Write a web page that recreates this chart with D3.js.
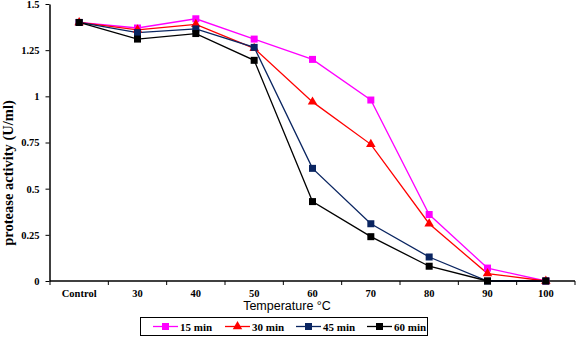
<!DOCTYPE html>
<html>
<head>
<meta charset="utf-8">
<script src="https://cdn.jsdelivr.net/npm/d3@7"></script>
<style>
  body { margin: 0; background: #fff; }
  svg { display: block; }
  .serif { font-family: "Liberation Serif", "DejaVu Serif", serif; font-weight: bold; }
  .sans { font-family: "Liberation Sans", Arial, sans-serif; }
</style>
</head>
<body>
<div id="chart"></div>
<script>
"use strict";

// data
var categories = ["Control", "30", "40", "50", "60", "70", "80", "90", "100"];
var yTicks = [0, 0.25, 0.5, 0.75, 1, 1.25, 1.5];
var seriesNames = ["15 min", "30 min", "45 min", "60 min"];
var min15 = [1.40, 1.37, 1.42, 1.31, 1.20, 0.98, 0.36, 0.07, 0.0];
var min30 = [1.40, 1.36, 1.39, 1.26, 0.97, 0.74, 0.31, 0.04, 0.0];
var min45 = [1.40, 1.345, 1.365, 1.265, 0.61, 0.31, 0.13, 0.0, 0.0];
var min60 = [1.40, 1.31, 1.34, 1.195, 0.43, 0.24, 0.08, 0.0, 0.0];
var colors = ["#ff00ff", "#ff0000", "#0a2561", "#000000"];
var markers = ["square", "triangle", "square", "square"];

var series = [min15, min30, min45, min60].map(function(vals, i) {
  return { name: seriesNames[i], values: vals, color: colors[i], marker: markers[i] };
});

var width = 579, height = 337;
var plotLeft = 50, plotRight = 575, plotTop = 4, plotBottom = 281;

var svg = d3.select("#chart").append("svg")
  .attr("width", width)
  .attr("height", height);

var x = d3.scaleBand().domain(categories).range([plotLeft, plotRight]);
var y = d3.scaleLinear().domain([0, 1.5]).range([plotBottom, plotTop]);

// x axis: ticks at band edges
var xAxis = svg.append("g").attr("transform", "translate(0," + plotBottom + ")");
xAxis.append("line")
  .attr("x1", plotLeft).attr("x2", plotRight)
  .attr("stroke", "#000").attr("stroke-width", 1.5);
d3.range(categories.length + 1).forEach(function(i) {
  var xx = plotLeft + i * x.bandwidth();
  xAxis.append("line")
    .attr("x1", xx).attr("x2", xx).attr("y1", 0).attr("y2", 4)
    .attr("stroke", "#000");
});
xAxis.selectAll("text.cat").data(categories).enter().append("text")
  .attr("class", "cat serif")
  .attr("x", function(d) { return x(d) + x.bandwidth() / 2; })
  .attr("y", 15.5)
  .attr("text-anchor", "middle")
  .attr("font-size", "10.5px")
  .text(function(d) { return d; });

// y axis
var yAxis = svg.append("g")
  .attr("transform", "translate(" + (plotLeft - 0.5) + ",0)")
  .call(d3.axisLeft(y).tickValues(yTicks).tickSize(4).tickPadding(6).tickSizeOuter(0)
    .tickFormat(function(d) { return String(d); }));
yAxis.select(".domain").attr("stroke-width", 1.5);
yAxis.selectAll("text")
  .attr("class", "serif")
  .attr("font-size", "10.5px");

// axis titles
svg.append("text")
  .attr("class", "sans")
  .attr("x", 287).attr("y", 310)
  .attr("text-anchor", "middle")
  .attr("font-size", "12.5px")
  .text("Temperature °C");

svg.append("text")
  .attr("class", "serif")
  .attr("transform", "translate(13,173) rotate(-90)")
  .attr("text-anchor", "middle")
  .attr("font-size", "14.5px")
  .text("protease activity (U/ml)");

// lines and markers
var line = d3.line()
  .x(function(d, i) { return x(categories[i]) + x.bandwidth() / 2; })
  .y(function(d) { return y(d); });

function drawMarker(g, shape, color, size) {
  if (shape === "triangle") {
    g.append("path")
      .attr("d", d3.symbol().type(d3.symbolTriangle).size(size * size * 0.8)())
      .attr("fill", color);
  } else {
    g.append("rect")
      .attr("x", -size / 2).attr("y", -size / 2)
      .attr("width", size).attr("height", size)
      .attr("fill", color);
  }
}

series.forEach(function(s) {
  svg.append("path")
    .datum(s.values)
    .attr("d", line)
    .attr("fill", "none")
    .attr("stroke", s.color)
    .attr("stroke-width", 1.3);
});
series.forEach(function(s) {
  s.values.forEach(function(v, i) {
    var g = svg.append("g")
      .attr("transform", "translate(" + (x(categories[i]) + x.bandwidth() / 2) + "," + y(v) + ")");
    drawMarker(g, s.marker, s.color, 7);
  });
});

// legend
var legend = svg.append("g");
legend.append("rect")
  .attr("x", 140.5).attr("y", 317.5)
  .attr("width", 287).attr("height", 18)
  .attr("fill", "none").attr("stroke", "#000");
var legendX = [153, 225, 296, 367];
series.forEach(function(s, i) {
  var item = legend.append("g").attr("transform", "translate(" + legendX[i] + ",326.5)");
  item.append("line")
    .attr("x1", 0).attr("x2", 25)
    .attr("stroke", s.color).attr("stroke-width", 1.3);
  var m = item.append("g").attr("transform", "translate(12.5,0)");
  drawMarker(m, s.marker, s.color, 7);
  item.append("text")
    .attr("class", "serif")
    .attr("x", 27).attr("y", 4)
    .attr("font-size", "11px")
    .text(s.name);
});
</script>
</body>
</html>
